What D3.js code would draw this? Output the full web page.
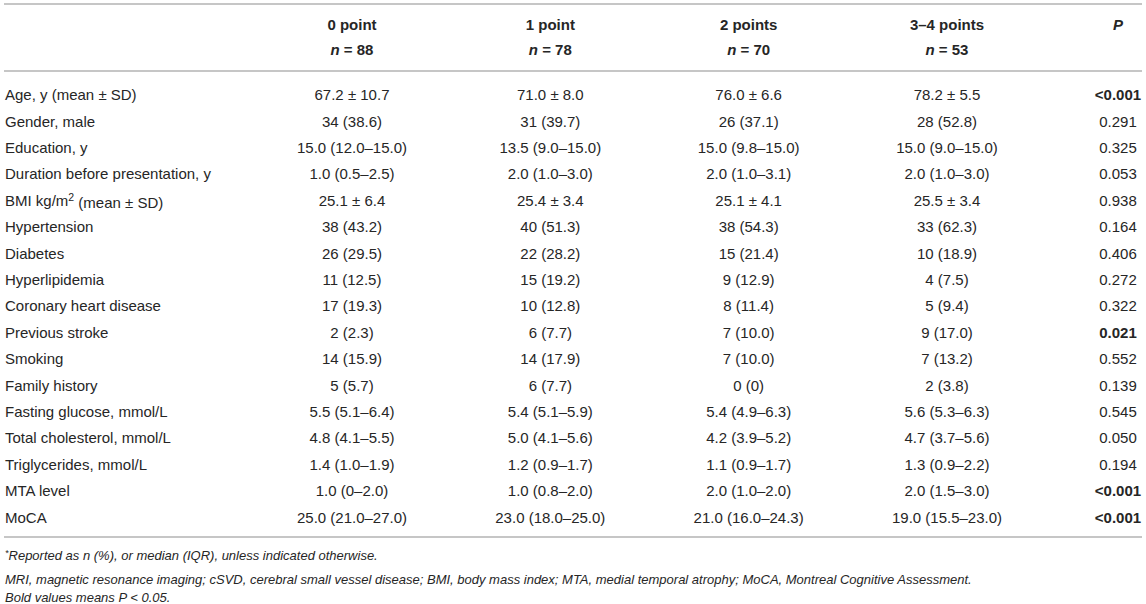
<!DOCTYPE html>
<html>
<head>
<meta charset="utf-8">
<script src="https://cdn.jsdelivr.net/npm/d3@7"></script>
<style>
  body { margin: 0; background: #fff; }
  svg text { font-family: "Liberation Sans", Arial, Helvetica, sans-serif; fill: #262626; }
</style>
</head>
<body>
<svg id="table"></svg>
<script>
// table data
const groups = ["0 point", "1 point", "2 points", "3–4 points"];
const groupN = [88, 78, 70, 53];

const variables = [
  "Age, y (mean ± SD)", "Gender, male", "Education, y", "Duration before presentation, y",
  "BMI kg/m2 (mean ± SD)", "Hypertension", "Diabetes", "Hyperlipidemia",
  "Coronary heart disease", "Previous stroke", "Smoking", "Family history",
  "Fasting glucose, mmol/L", "Total cholesterol, mmol/L", "Triglycerides, mmol/L",
  "MTA level", "MoCA"
];

const point0 = ["67.2 ± 10.7", "34 (38.6)", "15.0 (12.0–15.0)", "1.0 (0.5–2.5)", "25.1 ± 6.4",
  "38 (43.2)", "26 (29.5)", "11 (12.5)", "17 (19.3)", "2 (2.3)", "14 (15.9)", "5 (5.7)",
  "5.5 (5.1–6.4)", "4.8 (4.1–5.5)", "1.4 (1.0–1.9)", "1.0 (0–2.0)", "25.0 (21.0–27.0)"];
const point1 = ["71.0 ± 8.0", "31 (39.7)", "13.5 (9.0–15.0)", "2.0 (1.0–3.0)", "25.4 ± 3.4",
  "40 (51.3)", "22 (28.2)", "15 (19.2)", "10 (12.8)", "6 (7.7)", "14 (17.9)", "6 (7.7)",
  "5.4 (5.1–5.9)", "5.0 (4.1–5.6)", "1.2 (0.9–1.7)", "1.0 (0.8–2.0)", "23.0 (18.0–25.0)"];
const point2 = ["76.0 ± 6.6", "26 (37.1)", "15.0 (9.8–15.0)", "2.0 (1.0–3.1)", "25.1 ± 4.1",
  "38 (54.3)", "15 (21.4)", "9 (12.9)", "8 (11.4)", "7 (10.0)", "7 (10.0)", "0 (0)",
  "5.4 (4.9–6.3)", "4.2 (3.9–5.2)", "1.1 (0.9–1.7)", "2.0 (1.0–2.0)", "21.0 (16.0–24.3)"];
const point34 = ["78.2 ± 5.5", "28 (52.8)", "15.0 (9.0–15.0)", "2.0 (1.0–3.0)", "25.5 ± 3.4",
  "33 (62.3)", "10 (18.9)", "4 (7.5)", "5 (9.4)", "9 (17.0)", "7 (13.2)", "2 (3.8)",
  "5.6 (5.3–6.3)", "4.7 (3.7–5.6)", "1.3 (0.9–2.2)", "2.0 (1.5–3.0)", "19.0 (15.5–23.0)"];
const pValues = ["<0.001", "0.291", "0.325", "0.053", "0.938", "0.164", "0.406", "0.272",
  "0.322", "0.021", "0.552", "0.139", "0.545", "0.050", "0.194", "<0.001", "<0.001"];

const footnotes = [
  "Reported as n (%), or median (IQR), unless indicated otherwise.",
  "MRI, magnetic resonance imaging; cSVD, cerebral small vessel disease; BMI, body mass index; MTA, medial temporal atrophy; MoCA, Montreal Cognitive Assessment.",
  "Bold values means P < 0.05."
];

const columns = [point0, point1, point2, point34];

const width = 1146, height = 604;
const fontSize = 15;

const svg = d3.select("#table")
  .attr("width", width)
  .attr("height", height);

const x = d3.scalePoint().domain(groups).range([352, 947]);
const xP = 1118;
const y = d3.scalePoint().domain(variables).range([95, 517.4]);

const isBold = p => p.startsWith("<") || +p < 0.05;

// rules
const rules = [4, 71, 537];
svg.selectAll("line.rule")
  .data(rules).enter()
  .append("line")
  .attr("class", "rule")
  .attr("x1", 4).attr("x2", 1142)
  .attr("y1", d => d).attr("y2", d => d)
  .attr("stroke", "#b3b3b3")
  .attr("stroke-width", 1.6);

// header
const head = svg.append("g").attr("font-weight", "bold").attr("font-size", fontSize);
head.selectAll("text.grp")
  .data(groups).enter()
  .append("text")
  .attr("x", d => x(d))
  .attr("y", 25).attr("dy", "0.35em")
  .attr("text-anchor", "middle")
  .text(d => d);

const nText = head.selectAll("text.n")
  .data(groups).enter()
  .append("text")
  .attr("x", d => x(d))
  .attr("y", 50).attr("dy", "0.35em")
  .attr("text-anchor", "middle");
nText.append("tspan").attr("font-style", "italic").text("n");
nText.append("tspan").text((d, i) => " = " + groupN[i]);

head.append("text")
  .attr("x", xP).attr("y", 25).attr("dy", "0.35em")
  .attr("text-anchor", "middle")
  .attr("font-style", "italic")
  .text("P");

// row labels
const labels = svg.append("g").attr("font-size", fontSize)
  .selectAll("text")
  .data(variables).enter()
  .append("text")
  .attr("x", 5)
  .attr("y", d => y(d)).attr("dy", "0.35em");
labels.each(function(d) {
  const t = d3.select(this);
  if (d.includes("m2")) {
    const parts = d.split("m2");
    t.append("tspan").text(parts[0] + "m");
    t.append("tspan").attr("font-size", fontSize * 0.7).attr("dy", "-0.5em").text("2");
    t.append("tspan").attr("dy", "0.5em").text(parts[1]);
  } else {
    t.text(d);
  }
});

// group cells
columns.forEach((col, ci) => {
  svg.append("g").attr("font-size", fontSize)
    .selectAll("text")
    .data(col).enter()
    .append("text")
    .attr("x", x(groups[ci]))
    .attr("y", (d, i) => y(variables[i])).attr("dy", "0.35em")
    .attr("text-anchor", "middle")
    .text(d => d);
});

// p values
svg.append("g").attr("font-size", fontSize)
  .selectAll("text")
  .data(pValues).enter()
  .append("text")
  .attr("x", xP)
  .attr("y", (d, i) => y(variables[i])).attr("dy", "0.35em")
  .attr("text-anchor", "middle")
  .attr("font-weight", d => isBold(d) ? "bold" : "normal")
  .text(d => d);

// footnotes
const fy = [559, 579, 597];
const foot = svg.append("g").attr("font-size", 13).attr("font-style", "italic");
foot.selectAll("text")
  .data(footnotes).enter()
  .append("text")
  .attr("x", 5)
  .attr("y", (d, i) => fy[i]).attr("dy", "0.35em")
  .each(function(d, i) {
    const t = d3.select(this);
    if (i === 0) {
      t.append("tspan").attr("font-size", 9).attr("dy", "-0.3em").text("*");
      t.append("tspan").attr("dy", "0.3em").text(d);
    } else {
      t.text(d);
    }
  });
</script>
</body>
</html>
